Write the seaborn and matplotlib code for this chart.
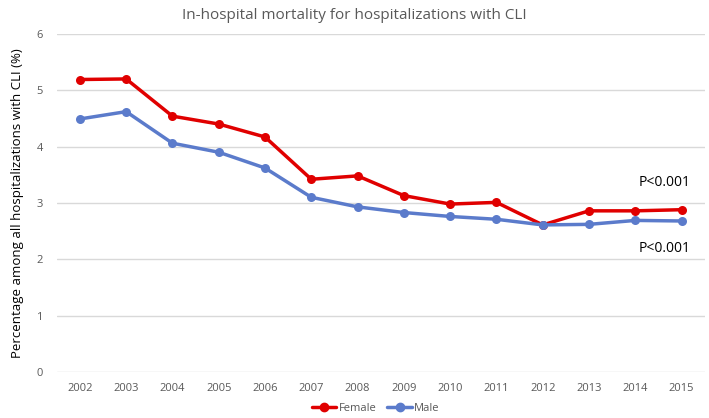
import matplotlib
matplotlib.use("Agg")
import matplotlib.pyplot as plt
import seaborn as sns
import pandas as pd
from matplotlib.lines import Line2D

years = ["2002", "2003", "2004", "2005", "2006", "2007", "2008", "2009",
         "2010", "2011", "2012", "2013", "2014", "2015"]
female = [5.19, 5.20, 4.54, 4.40, 4.17, 3.42, 3.48, 3.13, 2.98, 3.01, 2.61, 2.86, 2.86, 2.88]
male = [4.49, 4.62, 4.06, 3.90, 3.62, 3.10, 2.93, 2.83, 2.76, 2.71, 2.61, 2.62, 2.69, 2.68]

sns.set_theme(style="white")
plt.rcParams['font.family'] = ['Open Sans', 'DejaVu Sans']

df = pd.DataFrame({
    "year": years * 2,
    "idx": list(range(len(years))) * 2,
    "value": female + male,
    "sex": ["Female"] * len(years) + ["Male"] * len(years),
})

fig = plt.figure(figsize=(7.09, 4.18), dpi=100)
ax = fig.add_axes([0.080, 0.110, 0.914, 0.809])

palette = {"Female": "#e00000", "Male": "#5b7bcb"}
sns.lineplot(data=df, x="idx", y="value", hue="sex", palette=palette,
             marker="o", markersize=6.5, markeredgewidth=0, linewidth=2.5,
             ax=ax, legend=False)

ax.set_xlim(-0.5, len(years) - 0.5)
ax.set_ylim(0, 6)
ax.set_xticks(range(len(years)))
ax.set_xticklabels(years)
ax.set_yticks(range(0, 7))
ax.yaxis.grid(True, color="#d9d9d9", linewidth=1)
ax.set_axisbelow(True)
for s in ax.spines.values():
    s.set_visible(False)
ax.tick_params(axis="both", length=0, labelsize=8, colors="#595959")
ax.tick_params(axis="x", pad=8)
ax.tick_params(axis="y", pad=10)
ax.set_xlabel("")
ax.set_ylabel("Percentage among all hospitalizations with CLI (%)", fontsize=9.5,
              color="#000000", labelpad=9)

fig.suptitle("In-hospital mortality for hospitalizations with CLI", fontsize=11,
             color="#595959", y=0.982)

ax.text(12.63, 3.37, "P<0.001", fontsize=10, ha="center", va="center", color="#000000")
ax.text(12.63, 2.2, "P<0.001", fontsize=10, ha="center", va="center", color="#000000")

handles = [Line2D([0], [0], color=palette["Female"], lw=2.5, marker="o", markersize=6),
           Line2D([0], [0], color=palette["Male"], lw=2.5, marker="o", markersize=6)]
fig.legend(handles, ["Female", "Male"], loc="lower center", ncol=2, frameon=False,
           fontsize=8, bbox_to_anchor=(0.53, -0.015), handlelength=2.2,
           columnspacing=1.0, handletextpad=0.2, labelcolor="#595959")

fig.savefig("out.png", dpi=100)
